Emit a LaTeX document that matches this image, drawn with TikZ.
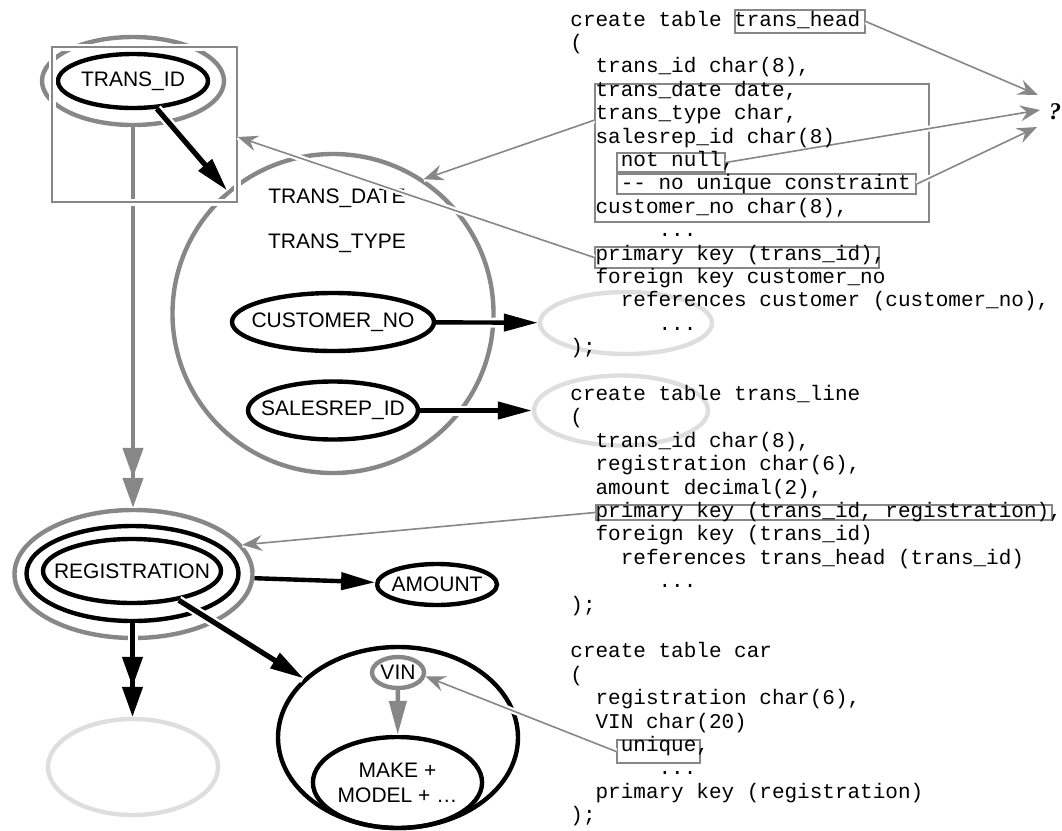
\documentclass[tikz,border=0pt]{standalone}
\usepackage{fontspec}
\usetikzlibrary{shapes.geometric,arrows.meta,fit}
\newfontfamily\labfont{Liberation Sans}
\newfontfamily\codefont{Liberation Mono}
\newfontfamily\qfont{Liberation Serif}
\definecolor{dgray}{gray}{0.53}
\definecolor{lgray}{gray}{0.87}
\newcommand\lbl[1]{\makebox[0pt]{#1}}
\tikzset{
  lab/.style={font=\labfont\fontsize{10.5}{12.5}\selectfont,inner sep=0pt},
  att/.style 2 args={lab,ellipse,draw=black,line width=2.2pt,minimum width=#1pt,minimum height=#2pt},
  ring/.style 2 args={att={#1}{#2},draw=dgray},
  ghost/.style 2 args={att={#1}{#2},draw=lgray},
  halo/.style={preaction={draw=white,line width=#1,-}},
  fk/.style={line width=2.2pt,-{Triangle[length=17pt,width=8.5pt]},halo=5pt},
  fkk/.style={line width=2.2pt,-{Triangle[length=15pt,width=10pt,sep=0pt]Triangle[length=15pt,width=10pt,sep=0pt]},halo=5pt},
  note/.style={draw=dgray,line width=0.8pt,-{Stealth[length=10pt,width=8pt,inset=3.5pt]},halo=3pt},
  hl/.style={draw=dgray,line width=0.8pt,inner sep=0pt},
  code/.style={font=\codefont\fontsize{10.5}{12}\selectfont,anchor=base west,inner sep=0pt}
}
\begin{document}
\begin{tikzpicture}[x=0.5pt,y=-0.5pt]
\useasboundingbox (0,0) rectangle (1062,831);
% trans_head
\node[ring={160.5}{159.5}] (headset) at (333,313.5) {};
\node[lab] (tdate) at (337,198) {TRANS\_DATE};
\node[lab] (ttype) at (337,243) {TRANS\_TYPE};
\node[att={101}{29}] (cust) at (333,322) {\lbl{CUSTOMER\_NO}};
\node[att={85}{29}] (srep) at (333,410.5) {\lbl{SALESREP\_ID}};
\node[ghost={86}{31}] (custref) at (626,323) {};%customer
\node[ghost={87}{35}] (srepref) at (621,410.5) {};%salesrep
\node[att={75}{27}] (tid) at (133,81) {TRANS\_ID};
\node[ring={91}{44}] (tidring) at (133,81) {};
% trans_line
\node[att={89}{32}] (reg) at (132,571) {\lbl{REGISTRATION}};
\node[att={106}{47.5}] (regmid) at (132.5,573.5) {};
\node[ring={119}{64}] (regout) at (133.5,574) {};
\node[att={60}{20.5}] (amount) at (437,584.5) {\lbl{AMOUNT}};
\node[ghost={85}{48}] (lower) at (133,767) {};
% car
\node[att={120}{90.5}] (car) at (398,737.5) {};
\node[ring={26}{15.5}] (vin) at (398,672.5) {VIN};
\node[att={73.5}{45.5},align=center] (make) at (397.5,782.5) {MAKE +\\MODEL + …};
% 矢印
\draw[fk,line width=2.6pt] (tid) -- (headset);
\draw[fkk,draw=dgray] (tidring.south) -- (tidring.south |- regout.north);
\draw[fk] (cust) -- (custref);
\draw[fk] (srep) -- (srepref);
\draw[fk] (regout) -- (amount);
\draw[fk,line width=2.6pt] (reg) -- (car);
\draw[fkk] (regmid.south) -- (regmid.south |- lower.north);
\draw[fk,draw=dgray] (vin) -- (make);
\node[hl,fit={(52,47) (237,202)},halo=3.5pt] (tidbox) {};
% SQL の枠
\node[hl,fit={(735,10) (865,33)}] (thead) {};
\node[hl,fit={(595,84) (929,222)}] (bigbox) {};
\node[hl,fit={(617,153) (725,172)}] (nn) {};
\node[hl,fit={(617,174) (916,194)}] (cons) {};
\node[hl,fit={(595,247) (879,268)}] (pk1) {};
\node[hl,fit={(596,505) (1052,520)}] (pk2) {};
\node[hl,fit={(617,740) (700,763)}] (uniq) {};
\node[font=\qfont\bfseries\itshape\fontsize{12}{14}\selectfont,inner sep=0pt] (q) at (1055,112) {?};
\draw[note] (thead.east) -- ([shift={(-17,-17)}]q.center);
\draw[note] (nn.east) -- ([shift={(-15,-2)}]q.center);
\draw[note] (cons.east) -- ([shift={(-18,15)}]q.center);
\draw[note] ([shift={(0,37)}]bigbox.north west) -- (headset.56);
\draw[note] (pk1.west) -- ([shift={(0,12.5)}]tidbox.east);
\draw[note] (pk2.west) -- (regout.15);
\draw[note] (uniq.west) -- (vin.-8);
% SQL
\foreach \li/\ci/\tx in {
  0/0/{create table trans\_head},
  1/0/{(},
  2/2/{trans\_id char(8),},
  3/2/{trans\_date date,},
  4/2/{trans\_type char,},
  5/2/{salesrep\_id char(8)},
  6/4/{not null,},
  7/4/{-{}- no unique constraint},
  8/2/{customer\_no char(8),},
  9/7/{...},
  10/2/{primary key (trans\_id),},
  11/2/{foreign key customer\_no},
  12/4/{references customer (customer\_no),},
  13/7/{...},
  14/0/{);},
  16/0/{create table trans\_line},
  17/0/{(},
  18/2/{trans\_id char(8),},
  19/2/{registration char(6),},
  20/2/{amount decimal(2),},
  21/2/{primary key (trans\_id, registration),},
  22/2/{foreign key (trans\_id)},
  23/4/{references trans\_head (trans\_id)},
  24/7/{...},
  25/0/{);},
  27/0/{create table car},
  28/0/{(},
  29/2/{registration char(6),},
  30/2/{VIN char(20)},
  31/4/{unique,},
  32/7/{...},
  33/2/{primary key (registration)},
  34/0/{);}
}{\node[code] (c\li) at ({570+12.6*\ci},{26+23.4*\li}) {\tx};}
\end{tikzpicture}
\end{document}
